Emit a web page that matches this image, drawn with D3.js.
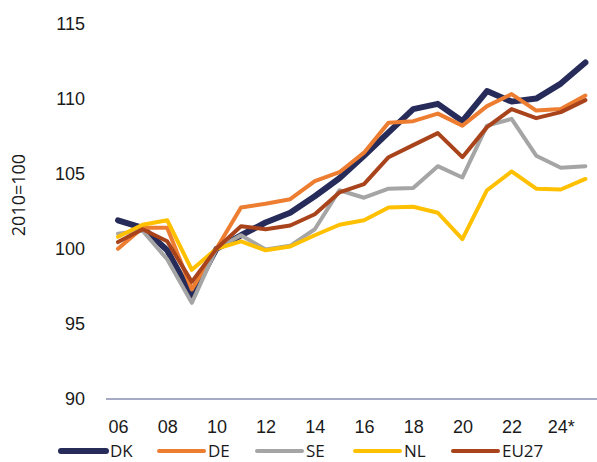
<!DOCTYPE html>
<html>
<head>
<meta charset="utf-8">
<style>
  body { margin: 0; background: #fff; }
  svg { display: block; font-family: "Open Sans", sans-serif; }
  .axis text { font-size: 18px; fill: #1a1a1a; }
  .line { fill: none; stroke-linecap: round; stroke-linejoin: round; }
</style>
</head>
<body>
<svg width="597" height="462"></svg>
<script src="https://cdnjs.cloudflare.com/ajax/libs/d3/7.8.5/d3.min.js"></script>
<script>
// data (index, 2010 = 100)
var years = d3.range(2006, 2026);
var tickYears = [2006, 2008, 2010, 2012, 2014, 2016, 2018, 2020, 2022, 2024];
var tickLabels = ["06", "08", "10", "12", "14", "16", "18", "20", "22", "24*"];
var yTicks = [90, 95, 100, 105, 110, 115];

var dk   = [101.9, 101.4, 99.9, 96.9, 100, 100.9, 101.75, 102.4, 103.5, 104.7, 106.2, 107.75, 109.3, 109.65, 108.5, 110.5, 109.8, 110.0, 111.0, 112.4];
var de   = [100.0, 101.4, 101.4, 97.3, 100, 102.75, 103.0, 103.3, 104.5, 105.1, 106.4, 108.4, 108.5, 109.0, 108.2, 109.5, 110.3, 109.2, 109.3, 110.2];
var se   = [101.0, 101.2, 99.3, 96.4, 100, 100.9, 99.95, 100.2, 101.3, 103.9, 103.4, 104.0, 104.05, 105.5, 104.75, 108.2, 108.65, 106.2, 105.4, 105.5];
var nl   = [100.8, 101.6, 101.9, 98.6, 100, 100.5, 99.9, 100.15, 100.9, 101.6, 101.9, 102.75, 102.8, 102.4, 100.65, 103.9, 105.15, 104.0, 103.95, 104.65];
var eu27 = [100.45, 101.3, 100.5, 97.8, 100, 101.5, 101.3, 101.55, 102.3, 103.75, 104.3, 106.1, 106.9, 107.7, 106.1, 108.1, 109.3, 108.7, 109.1, 109.9];

var series = [
  { name: "DK",   values: dk,   color: "#262b5a", width: 6 },
  { name: "DE",   values: de,   color: "#ed7d31", width: 4 },
  { name: "SE",   values: se,   color: "#a5a5a5", width: 4 },
  { name: "NL",   values: nl,   color: "#ffc000", width: 4 },
  { name: "EU27", values: eu27, color: "#a9431b", width: 4 }
];

var svg = d3.select("svg"),
    W = +svg.attr("width");

var x = d3.scaleLinear().domain([2006, 2025]).range([118, 585.4]),
    y = d3.scaleLinear().domain([90, 115]).range([399, 23.5]);

// y axis labels only
svg.append("g")
    .attr("class", "axis")
    .attr("transform", "translate(85,0)")
    .call(d3.axisLeft(y).tickValues(yTicks).tickSize(0).tickPadding(0))
    .call(function (g) { g.select(".domain").remove(); });

// baseline
svg.append("line")
    .attr("x1", 106).attr("x2", W)
    .attr("y1", y(90)).attr("y2", y(90))
    .attr("stroke", "#51568c")
    .attr("stroke-width", 1.2);

// x axis labels
svg.append("g")
    .attr("class", "axis")
    .attr("transform", "translate(0," + y(90) + ")")
    .call(d3.axisBottom(x).tickValues(tickYears).tickSize(0).tickPadding(21)
        .tickFormat(function (d, i) { return tickLabels[i]; }))
    .call(function (g) { g.select(".domain").remove(); });

svg.append("text")
    .attr("transform", "translate(18.5,195) rotate(-90)")
    .attr("text-anchor", "middle")
    .attr("dy", "0.35em")
    .style("font-size", "18px")
    .style("fill", "#1a1a1a")
    .text("2010=100");

var line = d3.line()
    .x(function (d, i) { return x(years[i]); })
    .y(function (d) { return y(d); });

svg.selectAll(".line")
    .data(series)
    .enter().append("path")
    .attr("class", "line")
    .attr("d", function (d) { return line(d.values); })
    .style("stroke", function (d) { return d.color; })
    .style("stroke-width", function (d) { return d.width; });

// legend
var legend = svg.selectAll(".legend")
    .data(series)
    .enter().append("g")
    .attr("class", "legend")
    .attr("transform", function (d, i) { return "translate(" + (61 + i * 98) + ",451)"; });

legend.append("line")
    .attr("x1", 0).attr("x2", 45)
    .attr("stroke", function (d) { return d.color; })
    .attr("stroke-width", function (d) { return d.width; })
    .attr("stroke-linecap", "round");

legend.append("text")
    .attr("x", 49)
    .attr("dy", "0.35em")
    .style("font-size", "17px")
    .style("fill", "#1a1a1a")
    .text(function (d) { return d.name; });
</script>
</body>
</html>
